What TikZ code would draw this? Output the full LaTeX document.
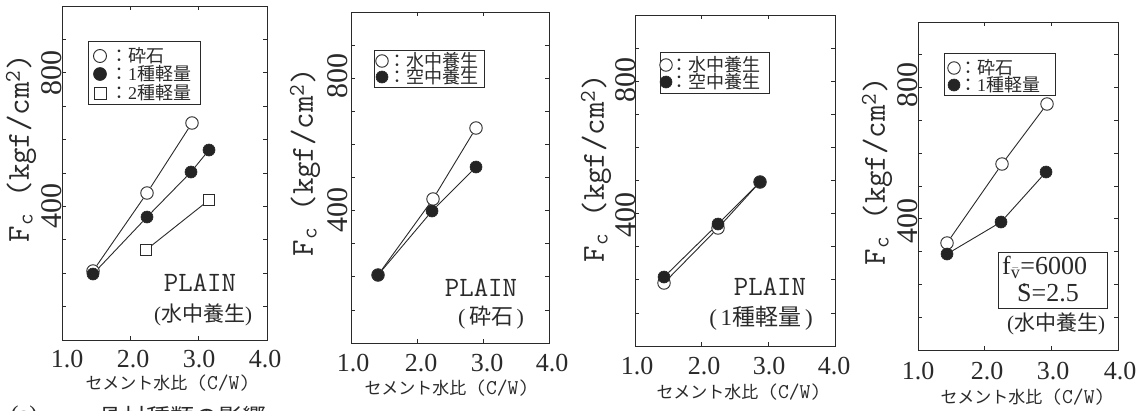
\documentclass[tikz,border=0pt]{standalone}
\usepackage{fontspec}
\setmainfont{Liberation Serif}
\newfontfamily\jp{Noto Sans CJK JP}
\usetikzlibrary{backgrounds}
\definecolor{ink}{HTML}{2A2A2A}
\definecolor{dotcol}{HTML}{242424}
\newcommand\fs[1]{\fontsize{#1}{#1}\selectfont}
\newcommand\plotframe[4]{%
  \draw[frameline] (#1,#2) rectangle (#3,#4);
  \foreach \k in {1,...,9}{
    \pgfmathsetmacro\yy{#4-(#4-#2)*\k/10}
    \draw[tickmark] (#1,\yy) -- ++(4,0);
    \draw[tickmark] (#3,\yy) -- ++(-4,0);
  }
  \foreach \k in {1,2}{
    \pgfmathsetmacro\xx{#1+(#3-#1)*\k/3}
    \draw[tickmark] (\xx,#4) -- ++(0,-4);
    \draw[tickmark] (\xx,#2) -- ++(0,4);
  }
}
\tikzset{
  frameline/.style={draw=ink, line width=0.9pt},
  tickmark/.style={draw=ink, line width=0.8pt},
  dataline/.style={draw=ink, line width=0.9pt},
  opendot/.style={circle, draw=ink, fill=white, line width=0.9pt, minimum size=12.5pt, inner sep=0pt},
  filldot/.style={circle, draw=ink, fill=dotcol, line width=0.6pt, minimum size=12pt, inner sep=0pt},
  opensq/.style={rectangle, draw=ink, fill=white, line width=0.9pt, minimum size=10.5pt, inner sep=0pt},
  legsq/.style={rectangle, draw=ink, fill=white, line width=0.9pt, minimum size=12pt, inner sep=0pt},
  legbox/.style={draw=ink, line width=0.9pt},
  legtext/.style={anchor=west, inner sep=0pt, text=ink, font=\fs{18}},
  ytl/.style={rotate=90, inner sep=0pt, text=ink, font=\fs{30}},
  xtl/.style={inner sep=0pt, text=ink, font=\fs{26}},
  ylab/.style={rotate=90, inner sep=0pt, text=ink, font=\ttfamily\fs{32}},
  xlab/.style={inner sep=0pt, text=ink, font=\fs{17}},
  plain/.style={inner sep=0pt, text=ink, font=\ttfamily\fs{28}},
  cond/.style={inner sep=0pt, text=ink, font=\fs{21}},
  caption/.style={inner sep=0pt, text=ink, font=\fs{24}}
}
\newcommand\cw{{\jp セメント水比}\hspace{9pt}{\ttfamily\fs{21}(C/W)}}
\newcommand\fclab{F\textsubscript{c} (kgf/cm\textsuperscript{2})}
\begin{document}
\begin{tikzpicture}[x=1pt,y=-1pt]
\clip (0,0) rectangle (1139,410);
\begin{scope}[on background layer]
\fill[white] (0,0) rectangle (1139,410);
\end{scope}

%% ---------------- Panel 1 ----------------
\plotframe{62}{6}{267}{340}
\node[ytl] (p1y8) at (52,73) {800};
\node[ytl] (p1y4) at (52,206) {400};
\node[ylab] (p1yl) at (21,148) {\fclab};
\node[xtl] (p1x1) at (67,359) {1.0};
\node[xtl] (p1x2) at (133,359) {2.0};
\node[xtl] (p1x3) at (199,359) {3.0};
\node[xtl] (p1x4) at (265,359) {4.0};
\node[xlab] (p1xl) at (168,383) {\cw};
\draw[legbox] (88,41) rectangle (200,104);
\node[opendot, minimum size=13pt] (p1lo) at (100,56) {};
\node[filldot, minimum size=13pt] (p1lf) at (100,74) {};
\node[legsq] (p1ls) at (100,93) {};
\node[legtext] (p1lot) at (110,56) {{\jp ：砕石}};
\node[legtext] (p1lft) at (110,74) {{\jp ：}1{\jp 種軽量}};
\node[legtext] (p1lst) at (110,93) {{\jp ：}2{\jp 種軽量}};
\node[opensq] (p1s1) at (146,250) {};
\node[opensq] (p1s2) at (209,200) {};
\node[opendot] (p1o1) at (93,271) {};
\node[opendot] (p1o2) at (147,193) {};
\node[opendot] (p1o3) at (192,123) {};
\node[filldot] (p1f1) at (93,274) {};
\node[filldot] (p1f2) at (147,217) {};
\node[filldot] (p1f3) at (191,172) {};
\node[filldot] (p1f4) at (209,150) {};
\begin{scope}[on background layer]
\draw[dataline] (p1o1) -- (p1o2) -- (p1o3);
\draw[dataline] (p1f1) -- (p1f2) -- (p1f3) -- (p1f4);
\draw[dataline] (p1s1) -- (p1s2);
\end{scope}
\node[plain] (p1pl) at (200,283) {PLAIN};
\node[cond] (p1cd) at (203,315) {({\jp 水中養生})};

%% ---------------- Panel 2 ----------------
\plotframe{351}{12}{549}{343}
\node[ytl] (p2y8) at (338,76) {800};
\node[ytl] (p2y4) at (338,210) {400};
\node[ylab] (p2yl) at (305,162) {\fclab};
\node[xtl] (p2x1) at (353,363) {1.0};
\node[xtl] (p2x2) at (421,363) {2.0};
\node[xtl] (p2x3) at (487,363) {3.0};
\node[xtl] (p2x4) at (552,363) {4.0};
\node[xlab] (p2xl) at (447,388) {\cw};
\draw[legbox] (374,50) rectangle (484,87);
\node[opendot] (p2lo) at (382,61) {};
\node[filldot] (p2lf) at (382,77) {};
\node[legtext] (p2lot) at (388,61) {{\jp ：水中養生}};
\node[legtext] (p2lft) at (388,77) {{\jp ：空中養生}};
\node[opendot] (p2o1) at (378,275) {};
\node[opendot] (p2o2) at (433,199) {};
\node[opendot] (p2o3) at (476,128) {};
\node[filldot] (p2f1) at (378,275) {};
\node[filldot] (p2f2) at (432,211) {};
\node[filldot] (p2f3) at (476,167) {};
\begin{scope}[on background layer]
\draw[dataline] (p2o1) -- (p2o2) -- (p2o3);
\draw[dataline] (p2f1) -- (p2f2) -- (p2f3);
\end{scope}
\node[plain] (p2pl) at (481,288) {PLAIN};
\node[cond, font=\fs{22}] (p2cd) at (491,318) {(\,{\jp 砕石}\,)};

%% ---------------- Panel 3 ----------------
\plotframe{635}{15}{835}{346}
\node[ytl] (p3y8) at (626,80) {800};
\node[ytl] (p3y4) at (626,215) {400};
\node[ylab] (p3yl) at (596,168) {\fclab};
\node[xtl] (p3x1) at (637,366) {1.0};
\node[xtl] (p3x2) at (704,366) {2.0};
\node[xtl] (p3x3) at (769,366) {3.0};
\node[xtl] (p3x4) at (834,366) {4.0};
\node[xlab] (p3xl) at (739,392) {\cw};
\draw[legbox] (660,52) rectangle (769,93);
\node[opendot] (p3lo) at (666,65) {};
\node[filldot] (p3lf) at (666,82) {};
\node[legtext] (p3lot) at (670,65) {{\jp ：水中養生}};
\node[legtext] (p3lft) at (670,82) {{\jp ：空中養生}};
\node[opendot] (p3o1) at (664,283) {};
\node[opendot] (p3o2) at (718,228) {};
\node[opendot] (p3o3) at (760,182) {};
\node[filldot] (p3f1) at (664,277) {};
\node[filldot] (p3f2) at (718,224) {};
\node[filldot] (p3f3) at (760,182) {};
\begin{scope}[on background layer]
\draw[dataline] (p3o1) -- (p3o2) -- (p3o3);
\draw[dataline] (p3f1) -- (p3f2) -- (p3f3);
\end{scope}
\node[plain] (p3pl) at (770,287) {PLAIN};
\node[cond, font=\fs{23}] (p3cd) at (761,318) {(\,1{\jp 種軽量}\,)};

%% ---------------- Panel 4 ----------------
\plotframe{918}{22}{1118}{350}
\node[ytl] (p4y8) at (908,85) {800};
\node[ytl] (p4y4) at (908,221) {400};
\node[ylab] (p4yl) at (877,171) {\fclab};
\node[xtl] (p4x1) at (918,371) {1.0};
\node[xtl] (p4x2) at (987,371) {2.0};
\node[xtl] (p4x3) at (1053,371) {3.0};
\node[xtl] (p4x4) at (1120,371) {4.0};
\node[xlab] (p4xl) at (1023,397) {\cw};
\draw[legbox] (944,53) rectangle (1055,95);
\node[opendot] (p4lo) at (954,68) {};
\node[filldot] (p4lf) at (954,85) {};
\node[legtext] (p4lot) at (959,68) {{\jp ：砕石}};
\node[legtext] (p4lft) at (959,85) {{\jp ：}1{\jp 種軽量}};
\node[opendot] (p4o1) at (947,243) {};
\node[opendot] (p4o2) at (1002,164) {};
\node[opendot] (p4o3) at (1047,104) {};
\node[filldot] (p4f1) at (947,254) {};
\node[filldot] (p4f2) at (1001,222) {};
\node[filldot] (p4f3) at (1046,172) {};
\begin{scope}[on background layer]
\draw[dataline] (p4o1) -- (p4o2) -- (p4o3);
\draw[dataline] (p4f1) -- (p4f2) -- (p4f3);
\end{scope}
\node[legbox, rectangle, minimum width=109pt, minimum height=56pt, inner sep=0pt] (p4box) at (1052.5,280) {};
\node[cond, font=\fs{26}, align=left, anchor=west] (p4fv) at (1002,279)
  {f\textsubscript{$\bar{\mathrm{v}}$}=6000\\[1pt]\hspace*{15pt}\ooalign{S\cr\hidewidth\raisebox{0.58em}{.}\hidewidth\cr}=2.5};
\node[cond] (p4cd) at (1056,324) {({\jp 水中養生})};

%% ---------------- caption (cut off at the bottom) ----------------
\node[caption] (capa) at (24,417) {(a)};
\node[caption] (capt) at (182,417) {{\jp 骨材種類の影響}};
\end{tikzpicture}
\end{document}
